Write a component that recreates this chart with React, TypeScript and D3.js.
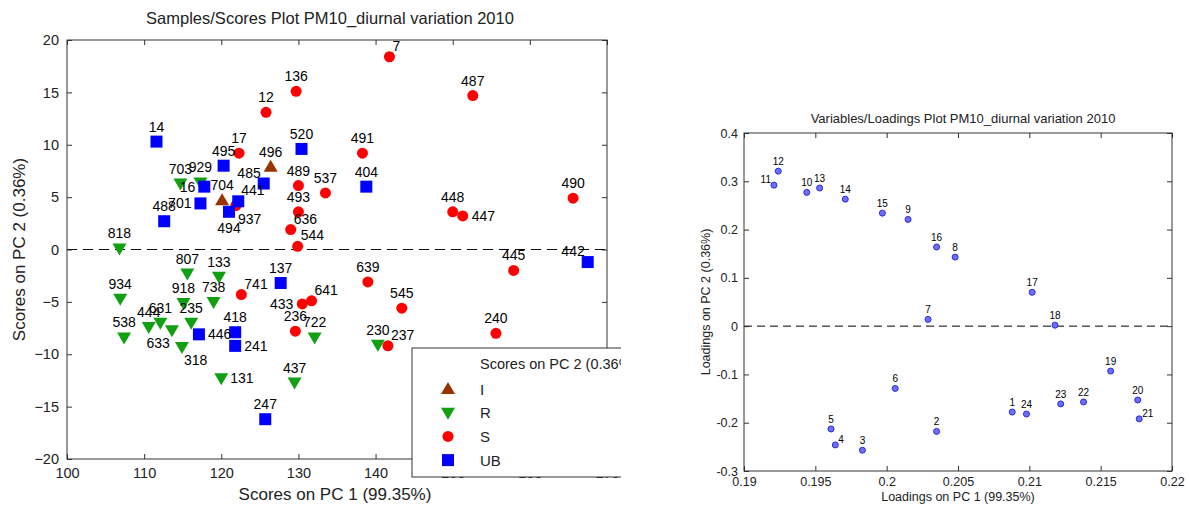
import React, { useRef, useEffect } from 'react';
import * as d3 from 'd3';

// Scores: [sample id, PC1, PC2]
const scoresI: [string, number, number][] = [
  ['496', 126.4, 7.9], ['704', 120.1, 4.7],
];
const scoresR: [string, number, number][] = [
  ['703', 114.7, 6.3], ['929', 117.3, 6.4], ['818', 106.8, 0.1], ['807', 115.6, -2.3],
  ['133', 119.7, -2.6], ['934', 106.9, -4.7], ['918', 115.1, -5.1], ['738', 119.0, -5.0],
  ['444', 110.6, -7.4], ['631', 112.1, -7.0], ['633', 113.6, -7.7], ['235', 116.1, -7.0],
  ['538', 107.4, -8.4], ['318', 114.9, -9.3], ['131', 120.0, -12.3], ['437', 129.5, -12.7],
  ['722', 132.1, -8.4], ['230', 140.3, -9.1],
];
const scoresS: [string, number, number][] = [
  ['7', 141.8, 18.4], ['136', 129.7, 15.1], ['487', 152.6, 14.7], ['12', 125.8, 13.1],
  ['17', 122.3, 9.2], ['491', 138.3, 9.2], ['489', 130.0, 6.1], ['537', 133.5, 5.4],
  ['490', 165.6, 4.9], ['493', 130.0, 3.6], ['448', 150.0, 3.6], ['447', 151.3, 3.2],
  ['636', 129.0, 1.9], ['544', 129.9, 0.3], ['445', 157.9, -2.0], ['639', 139.0, -3.1],
  ['741', 122.6, -4.3], ['641', 131.7, -4.9], ['433', 130.5, -5.2], ['545', 143.4, -5.6],
  ['236', 129.6, -7.8], ['240', 155.6, -8.0], ['237', 141.6, -9.2], ['937', 121.9, 4.2],
];
const scoresUB: [string, number, number][] = [
  ['14', 111.6, 10.3], ['495', 120.3, 8.0], ['520', 130.4, 9.6], ['485', 125.5, 6.3],
  ['16', 117.8, 6.0], ['701', 117.3, 4.4], ['441', 122.2, 4.6], ['494', 121.0, 3.6],
  ['488', 112.6, 2.7], ['404', 138.8, 6.0], ['137', 127.7, -3.2], ['446', 117.1, -8.1],
  ['418', 121.8, -7.9], ['241', 121.8, -9.2], ['247', 125.7, -16.2], ['442', 167.5, -1.2],
];

// Loadings: [variable, PC1, PC2]
const loadings: [string, number, number][] = [
  ['1', 0.2088, -0.178], ['2', 0.2035, -0.218], ['3', 0.1983, -0.257], ['4', 0.1964, -0.246],
  ['5', 0.1961, -0.213], ['6', 0.2006, -0.129], ['7', 0.2029, 0.014], ['8', 0.2048, 0.143],
  ['9', 0.2015, 0.221], ['10', 0.1944, 0.277], ['11', 0.1921, 0.292], ['12', 0.1924, 0.321],
  ['13', 0.1953, 0.286], ['14', 0.1971, 0.263], ['15', 0.1997, 0.234], ['16', 0.2035, 0.164],
  ['17', 0.2102, 0.070], ['18', 0.2118, 0.002], ['19', 0.2157, -0.093], ['20', 0.2176, -0.153],
  ['21', 0.2177, -0.192], ['22', 0.2138, -0.157], ['23', 0.2122, -0.161], ['24', 0.2098, -0.182],
];

const scoreXTicks = [100, 110, 120, 130, 140, 150, 160, 170];
const scoreYTicks = [-20, -15, -10, -5, 0, 5, 10, 15, 20];
const loadXTicks = [0.19, 0.195, 0.2, 0.205, 0.21, 0.215, 0.22];
const loadYTicks = [-0.3, -0.2, -0.1, 0, 0.1, 0.2, 0.3, 0.4];

// where a label sits relative to its marker (default: above)
const scoreLabelAt: Record<string, string> = {
  '7': 'ur', '433': 'l', '446': 'r', '241': 'r', '131': 'r', '318': 'br', '633': 'bl',
  '16': 'l', '701': 'l', '441': 'ur', '937': 'br', '494': 'b', '447': 'r', '544': 'ur',
  '636': 'ur', '442': 'ul', '237': 'ur', '741': 'ur', '641': 'ur', '485': 'ul',
};
const loadLabelAt: Record<string, string> = { '11': 'ul', '4': 'ur', '21': 'ur' };

const FONT = 'Arial, "Liberation Sans", sans-serif';

const App = () => {
  const ref = useRef<SVGSVGElement>(null);

  useEffect(() => {
    if (!ref.current) return;
    const svg = d3.select(ref.current);
    svg.selectAll('*').remove();

    const drawMarker = (g: any, kind: string, x: number, y: number) => {
      if (kind === 'S') {
        g.append('circle').attr('cx', x).attr('cy', y).attr('r', 5.5).attr('fill', '#ff0000');
      } else if (kind === 'UB') {
        g.append('rect').attr('x', x - 6).attr('y', y - 6).attr('width', 12).attr('height', 12)
          .attr('fill', '#0000ff');
      } else if (kind === 'I') {
        g.append('path').attr('d', `M${x},${y - 7}L${x + 7},${y + 5}L${x - 7},${y + 5}Z`)
          .attr('fill', '#993300');
      } else {
        g.append('path').attr('d', `M${x - 7},${y - 5}L${x + 7},${y - 5}L${x},${y + 7}Z`)
          .attr('fill', '#11a011');
      }
    };

    const placeLabel = (g: any, text: string, x: number, y: number, at: string, off: number, fs: number) => {
      let tx = x, ty = y - off - 3, anchor = 'middle';
      if (at === 'l') { tx = x - off - 2; ty = y + fs * 0.35; anchor = 'end'; }
      if (at === 'r') { tx = x + off + 2; ty = y + fs * 0.35; anchor = 'start'; }
      if (at === 'ur') { tx = x + 3; ty = y - off + 1; anchor = 'start'; }
      if (at === 'ul') { tx = x - 3; ty = y - off + 1; anchor = 'end'; }
      if (at === 'b') { ty = y + off + fs; }
      if (at === 'br') { tx = x + 2; ty = y + off + fs - 3; anchor = 'start'; }
      if (at === 'bl') { tx = x - 2; ty = y + off + fs - 3; anchor = 'end'; }
      g.append('text').attr('x', tx).attr('y', ty).attr('text-anchor', anchor)
        .attr('font-size', fs).attr('font-family', FONT).attr('fill', '#000').text(text);
    };

    const boxAxes = (g: any, x: any, y: any, xt: number[], yt: number[], fmtX: any, fmtY: any, fs: number, padX: number, padY: number) => {
      const [x0, x1] = x.range();
      const [y0, y1] = y.range();
      const style = (sel: any) => {
        sel.select('.domain').remove();
        sel.selectAll('line').attr('stroke', '#333');
        sel.selectAll('text').attr('font-size', fs).attr('font-family', FONT).attr('fill', '#222');
      };
      g.append('g').attr('transform', `translate(0,${y0})`)
        .call(d3.axisBottom(x).tickValues(xt).tickFormat(fmtX).tickSize(-5).tickPadding(padX)).call(style);
      g.append('g').attr('transform', `translate(0,${y1})`)
        .call(d3.axisTop(x).tickValues(xt).tickFormat(() => '').tickSize(-5)).call(style);
      g.append('g').attr('transform', `translate(${x0},0)`)
        .call(d3.axisLeft(y).tickValues(yt).tickFormat(fmtY).tickSize(-5).tickPadding(padY)).call(style);
      g.append('g').attr('transform', `translate(${x1},0)`)
        .call(d3.axisRight(y).tickValues(yt).tickFormat(() => '').tickSize(-5)).call(style);
      g.append('rect').attr('x', x0).attr('y', y1).attr('width', x1 - x0).attr('height', y0 - y1)
        .attr('fill', 'none').attr('stroke', '#333').attr('stroke-width', 1);
    };

    // ---------- Scores plot (panel is cropped on the right) ----------
    svg.append('clipPath').attr('id', 'leftPanel')
      .append('rect').attr('x', 0).attr('y', 0).attr('width', 621).attr('height', 507);
    const sx = d3.scaleLinear().domain([100, 170]).range([67, 607]);
    const sy = d3.scaleLinear().domain([-20, 20]).range([459, 40]);
    const left = svg.append('g').attr('clip-path', 'url(#leftPanel)');

    left.append('line').attr('x1', sx(100)).attr('x2', sx(170)).attr('y1', sy(0)).attr('y2', sy(0))
      .attr('stroke', '#000').attr('stroke-dasharray', '10,6');

    boxAxes(left, sx, sy, scoreXTicks, scoreYTicks, d3.format('d'), d3.format('d'), 14.5, 9, 8);

    const groups: [string, [string, number, number][]][] = [
      ['I', scoresI], ['R', scoresR], ['S', scoresS], ['UB', scoresUB],
    ];
    groups.forEach(([kind, pts]) => {
      pts.forEach(([id, a, b]) => drawMarker(left, kind, sx(a), sy(b)));
    });
    groups.forEach(([, pts]) => {
      pts.forEach(([id, a, b]) => placeLabel(left, id, sx(a), sy(b), scoreLabelAt[id] || 'a', 7, 14));
    });

    left.append('text').attr('x', 330).attr('y', 24).attr('text-anchor', 'middle')
      .attr('font-size', 16.5).attr('font-family', FONT).attr('fill', '#222')
      .text('Samples/Scores Plot PM10_diurnal variation 2010');
    left.append('text').attr('x', 335).attr('y', 500).attr('text-anchor', 'middle')
      .attr('font-size', 17).attr('font-family', FONT).attr('fill', '#222')
      .text('Scores on PC 1 (99.35%)');
    left.append('text').attr('transform', `translate(25,${sy(0)}) rotate(-90)`).attr('text-anchor', 'middle')
      .attr('font-size', 17).attr('font-family', FONT).attr('fill', '#222')
      .text('Scores on PC 2 (0.36%)');

    // legend
    const leg = left.append('g');
    leg.append('rect').attr('x', 412).attr('y', 348).attr('width', 240).attr('height', 129)
      .attr('fill', '#fff').attr('stroke', '#333');
    leg.append('text').attr('x', 480).attr('y', 369).attr('font-size', 14.5).attr('font-family', FONT)
      .attr('fill', '#222').text('Scores on PC 2 (0.36%)');
    groups.forEach(([kind], i) => {
      const yy = 389 + i * 23.7;
      drawMarker(leg, kind, 448, yy);
      leg.append('text').attr('x', 480).attr('y', yy + 5.5).attr('font-size', 15).attr('font-family', FONT)
        .attr('fill', '#222').text(kind);
    });

    // ---------- Loadings plot ----------
    const lx = d3.scaleLinear().domain([0.19, 0.22]).range([744, 1172]);
    const ly = d3.scaleLinear().domain([-0.3, 0.4]).range([471, 133]);
    const right = svg.append('g');

    right.append('line').attr('x1', lx(0.19)).attr('x2', lx(0.22)).attr('y1', ly(0)).attr('y2', ly(0))
      .attr('stroke', '#000').attr('stroke-dasharray', '8,5');

    const fmtL = (d: any) => String(+d.toFixed(3));
    boxAxes(right, lx, ly, loadXTicks, loadYTicks, fmtL, fmtL, 12.5, 6, 6);

    loadings.forEach(([id, a, b]) => {
      right.append('circle').attr('cx', lx(a)).attr('cy', ly(b)).attr('r', 3)
        .attr('fill', '#6f6fff').attr('stroke', '#2b2bd6').attr('stroke-width', 1);
    });
    loadings.forEach(([id, a, b]) => placeLabel(right, id, lx(a), ly(b), loadLabelAt[id] || 'a', 3, 10));

    right.append('text').attr('x', 963).attr('y', 123).attr('text-anchor', 'middle')
      .attr('font-size', 13).attr('font-family', FONT).attr('fill', '#222')
      .text('Variables/Loadings Plot PM10_diurnal variation 2010');
    right.append('text').attr('x', 958).attr('y', 501).attr('text-anchor', 'middle')
      .attr('font-size', 12.5).attr('font-family', FONT).attr('fill', '#222')
      .text('Loadings on PC 1 (99.35%)');
    right.append('text').attr('transform', `translate(710,302) rotate(-90)`).attr('text-anchor', 'middle')
      .attr('font-size', 12.5).attr('font-family', FONT).attr('fill', '#222')
      .text('Loadings on PC 2 (0.36%)');
  }, []);

  return (
    <svg
      ref={ref}
      width={1189}
      height={507}
      style={{ position: 'absolute', left: 0, top: 0, background: '#fff' }}
    />
  );
};

export default App;
